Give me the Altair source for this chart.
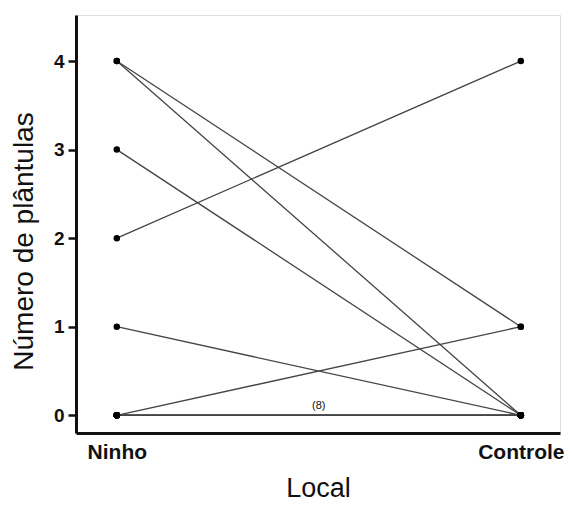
import altair as alt
import pandas as pd

ninho = [4, 4, 3, 2, 1, 0, 0, 0, 0, 0, 0, 0, 0, 0]
controle = [0, 1, 0, 4, 0, 1, 0, 0, 0, 0, 0, 0, 0, 0]
locais = ["Ninho", "Controle"]
y_ticks = [0, 1, 2, 3, 4]

rows = []
for i, (a, b) in enumerate(zip(ninho, controle)):
    rows.append({"id": i, "pos": 0, "local": locais[0], "n": a})
    rows.append({"id": i, "pos": 1, "local": locais[1], "n": b})
df = pd.DataFrame(rows)

font = "Liberation Sans"
x = alt.X("pos:Q", scale=alt.Scale(domain=[-0.101, 1.097], nice=False, zero=False),
          axis=alt.Axis(values=[0, 1], labelExpr="datum.value == 0 ? 'Ninho' : 'Controle'",
                        title="Local", ticks=False, grid=False, domainWidth=3, domainColor="#111",
                        labelFont=font, labelFontSize=21, labelFontWeight="bold", labelColor="#111",
                        labelPadding=8, titleFont=font, titleFontSize=27, titleFontWeight="normal",
                        titleColor="#111", titlePadding=13))
y = alt.Y("n:Q", scale=alt.Scale(domain=[-0.2, 4.52], nice=False, zero=False),
          axis=alt.Axis(values=y_ticks, format="d", title="Número de plântulas", grid=False,
                        domainWidth=3, domainColor="#111", tickSize=8, tickWidth=2.5, tickColor="#111",
                        labelFont=font, labelFontSize=19, labelFontWeight="bold", labelColor="#111",
                        labelPadding=4, titleFont=font, titleFontSize=28, titleFontWeight="normal",
                        titleColor="#111", titleX=-52, titleY=226, titleBaseline="middle"))

lines = alt.Chart(df).mark_line(color="#444", strokeWidth=1.3).encode(x=x, y=y, detail="id:N")
points = alt.Chart(df).mark_point(filled=True, color="#000", size=42, opacity=1).encode(x=x, y=y)
label_df = pd.DataFrame({"pos": [0.5], "n": [0], "t": ["(8)"]})
label = alt.Chart(label_df).mark_text(font=font, fontSize=11, dy=-9, color="#111").encode(
    x=x, y=y, text="t:N")

chart = (lines + points + label).properties(
    width=484, height=418,
    autosize=alt.AutoSizeParams(type="none"),
    padding={"left": 68, "top": 7, "right": 4, "bottom": 70},
).configure_view(stroke=None).configure(background="white")

chart.save("out.html", embed_options={"renderer": "svg", "actions": False})
